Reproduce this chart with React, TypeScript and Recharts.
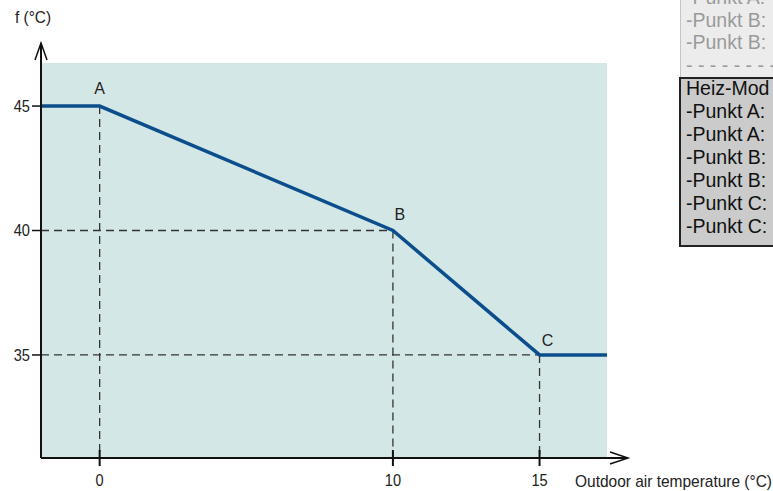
import { ComposedChart, Line, ReferenceArea, ReferenceLine, Scatter, XAxis, YAxis } from "recharts"

// heating curve: outdoor temp -> flow temp
const outdoorTemp = [-2, 0, 10, 15, 17.3]
const flowTemp = [45, 45, 40, 35, 35]

const pointNames = ["A", "B", "C"]
const pointTemps = [0, 10, 15]
const pointFlows = [45, 40, 35]

const xTicks = [0, 10, 15]
const yTicks = [35, 40, 45]
const xDomain = [-2, 17.3]
const yDomain = [30.86, 46.73]

const boxFaded = ["-Punkt A:", "-Punkt B:", "-Punkt B:", "- - - - - - - - - - -"]
const boxLines = ["Heiz-Mod", "-Punkt A:", "-Punkt A:", "-Punkt B:", "-Punkt B:", "-Punkt C:", "-Punkt C:"]

const curve = outdoorTemp.map((t, i) => ({ t, f: flowTemp[i] }))
const marks = pointNames.map((name, i) => ({ name, t: pointTemps[i], f: pointFlows[i] }))

const labelOffset: Record<string, [number, number]> = { A: [0, -18], B: [7, -17], C: [8, -15] }

const sans = "'Liberation Sans', Arial, sans-serif"
const dash = { stroke: "#333", strokeWidth: 1.3, strokeDasharray: "8 5" }

// recharts hands the tick position already pushed out by tickSize + tickMargin (8px)
function XTick({ x, y, payload }: any) {
  const ay = y - 8
  return (
    <g>
      <line x1={x} x2={x} y1={ay - 8} y2={ay + 8} stroke="#111" strokeWidth={2} />
      <text x={x} y={ay + 28} textAnchor="middle" fontSize={17} fontFamily={sans} fill="#222"
        transform={`translate(${x} 0) scale(0.86 1) translate(${-x} 0)`}>
        {payload.value}
      </text>
    </g>
  )
}

function YTick({ x, y, payload }: any) {
  const ax = x + 8
  return (
    <g>
      <line x1={ax - 9} x2={ax} y1={y} y2={y} stroke="#111" strokeWidth={1.5} />
      <text x={ax - 11} y={y + 6} textAnchor="end" fontSize={17} fontFamily={sans} fill="#222"
        transform={`translate(${ax - 11} 0) scale(0.86 1) translate(${-(ax - 11)} 0)`}>
        {payload.value}
      </text>
    </g>
  )
}

function PointLabel({ cx, cy, payload }: any) {
  const [dx, dy] = labelOffset[payload.name]
  return (
    <text x={cx + dx} y={cy + dy + 6} textAnchor="middle" fontSize={16} fontFamily={sans} fill="#222">
      {payload.name}
    </text>
  )
}

export default function App() {
  return (
    <div style={{ position: "absolute", left: 0, top: 0, width: 773, height: 491, background: "#fff", overflow: "hidden" }}>
      <ComposedChart
        width={773}
        height={491}
        margin={{ top: 63, right: 166, bottom: 0, left: 1 }}
      >
        <XAxis
          dataKey="t"
          type="number"
          domain={xDomain}
          ticks={xTicks}
          allowDataOverflow
          height={33}
          tickLine={false}
          axisLine={{ stroke: "#111", strokeWidth: 2 }}
          tick={<XTick />}
        />
        <YAxis
          dataKey="f"
          type="number"
          domain={yDomain}
          ticks={yTicks}
          allowDataOverflow
          width={40}
          tickLine={false}
          axisLine={{ stroke: "#111", strokeWidth: 2 }}
          tick={<YTick />}
        />
        <ReferenceArea x1={xDomain[0]} x2={xDomain[1]} y1={yDomain[0]} y2={yDomain[1]} fill="#d3e8e6" fillOpacity={1} stroke="none" />
        {marks.map((m) => (
          <ReferenceLine key={"v" + m.name} segment={[{ x: m.t, y: m.f }, { x: m.t, y: yDomain[0] }]} {...dash} />
        ))}
        {marks.slice(1).map((m) => (
          <ReferenceLine key={"h" + m.name} segment={[{ x: xDomain[0], y: m.f }, { x: m.t, y: m.f }]} {...dash} />
        ))}
        <Line data={curve} dataKey="f" type="linear" stroke="#0c4e8c" strokeWidth={3.5} dot={false} isAnimationActive={false} />
        <Scatter data={marks} dataKey="f" shape={<PointLabel />} isAnimationActive={false} />
      </ComposedChart>

      <svg width={773} height={491} style={{ position: "absolute", left: 0, top: 0, pointerEvents: "none" }}>
        <line x1={41} y1={64} x2={41} y2={43} stroke="#111" strokeWidth={2} />
        <polyline points="35,60 41,43 47,60" fill="none" stroke="#111" strokeWidth={1.5} />
        <line x1={606} y1={458} x2={627} y2={458} stroke="#111" strokeWidth={2} />
        <polyline points="610,452 628,458 610,464" fill="none" stroke="#111" strokeWidth={1.5} />
        <text x={15} y={23} fontSize={17} fontFamily={sans} fill="#222" textLength={36} lengthAdjust="spacingAndGlyphs">f (°C)</text>
        <text x={575} y={487} fontSize={17} fontFamily={sans} fill="#222" textLength={197} lengthAdjust="spacingAndGlyphs">
          Outdoor air temperature (°C)
        </text>
      </svg>

      <div style={{ position: "absolute", left: 680, top: -10, width: 100, height: 89, background: "#ececec", borderLeft: "1px solid #c4c4c4" }} />
      {boxFaded.map((s, i) => (
        <div key={"f" + i} style={{ position: "absolute", left: 686, top: -13 + i * 22.5, fontFamily: sans, fontSize: 19.5, color: "#9a9a9a", whiteSpace: "nowrap", lineHeight: "20px" }}>
          {s}
        </div>
      ))}
      <div style={{ position: "absolute", left: 679, top: 77, width: 100, height: 170, background: "#cbcbcb", border: "2px solid #222", boxSizing: "border-box" }} />
      {boxLines.map((s, i) => (
        <div key={"b" + i} style={{ position: "absolute", left: 686, top: 78 + i * 23, fontFamily: sans, fontSize: 19.5, color: "#111", whiteSpace: "nowrap", lineHeight: "20px" }}>
          {s}
        </div>
      ))}
    </div>
  )
}
